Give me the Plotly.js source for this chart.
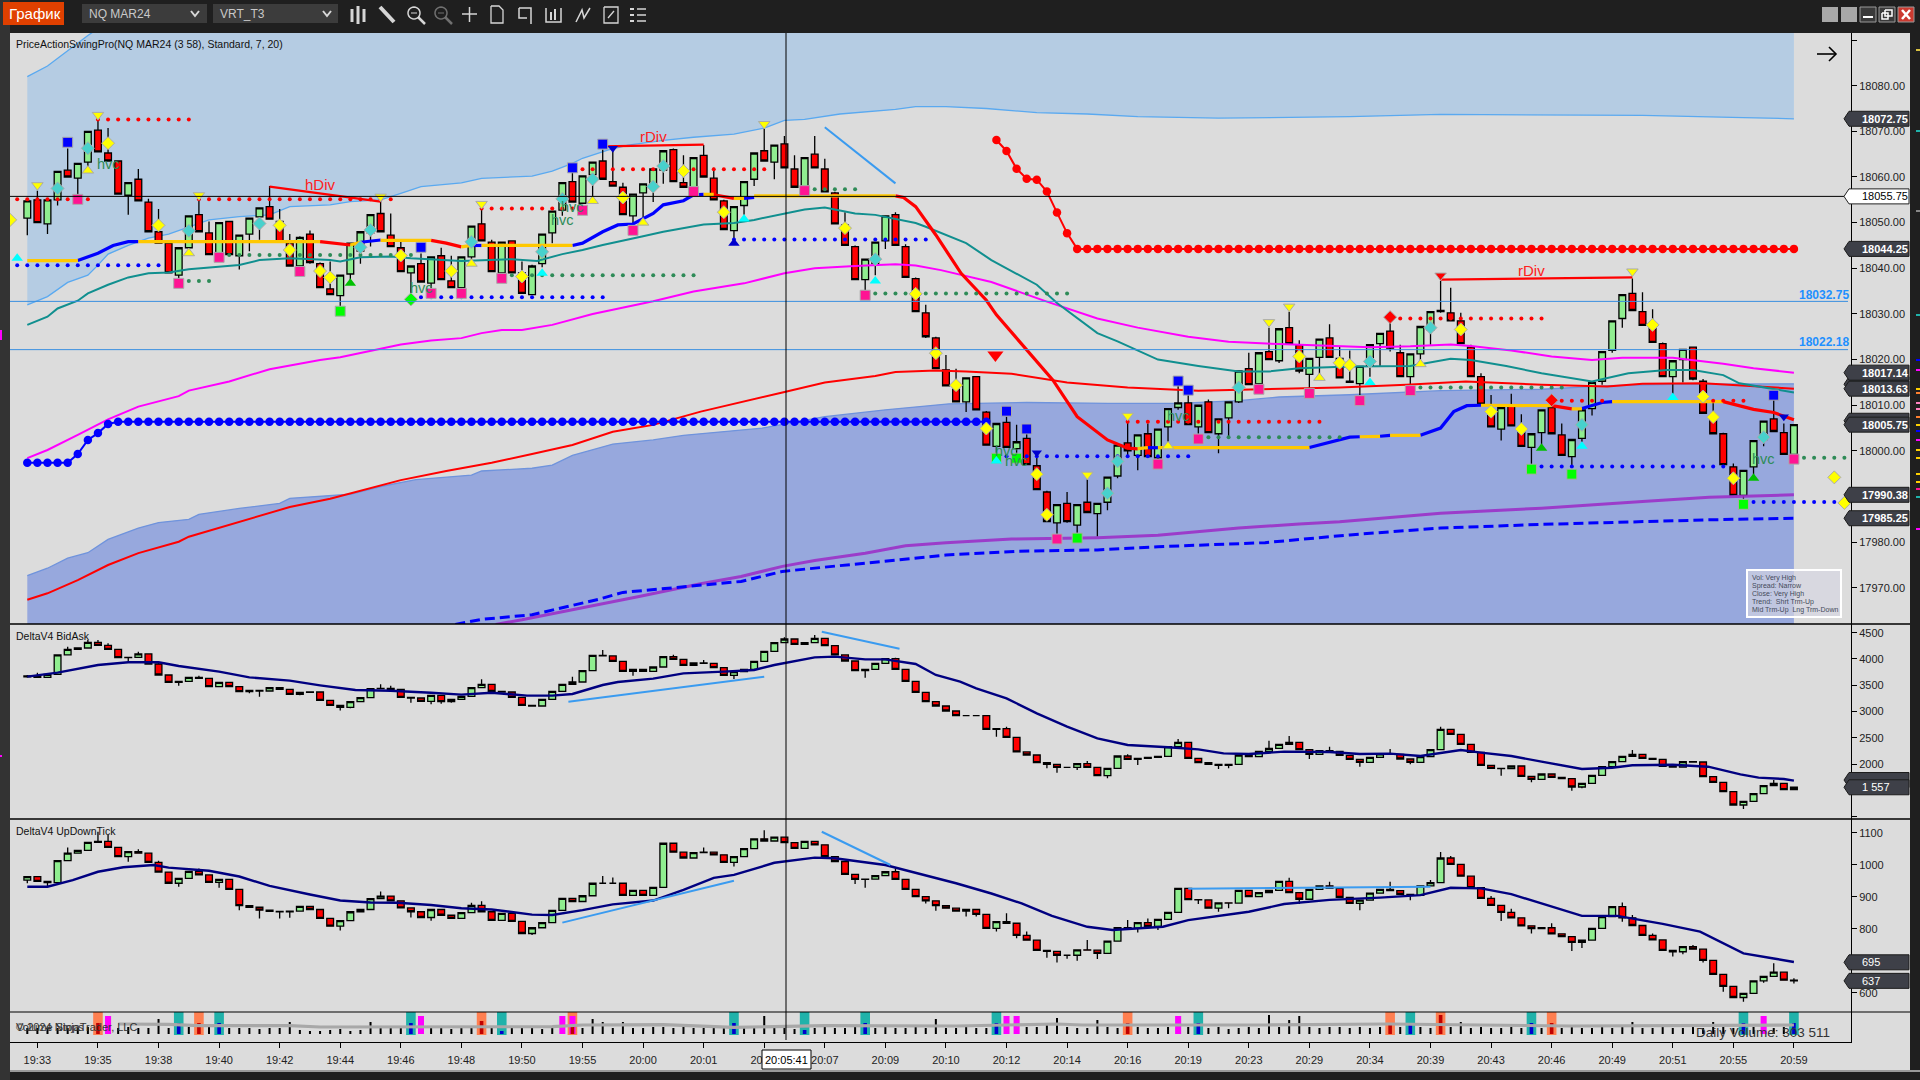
<!DOCTYPE html>
<html><head><meta charset="utf-8">
<script src="https://cdn.plot.ly/plotly-3.0.1.min.js"></script>
<style>html,body{margin:0;padding:0;background:#1f1f1f;overflow:hidden}#c{width:1920px;height:1080px}</style>
</head><body><div id="c"></div>
<script>
const tickLabels=['19:33','19:35','19:38','19:40','19:42','19:44','19:46','19:48','19:50','19:55','20:00','20:01','20:04','20:07','20:09','20:10','20:12','20:14','20:16','20:19','20:23','20:29','20:34','20:39','20:43','20:46','20:49','20:51','20:55','20:59'];
const priceOpen=[18051,18055,18049.75,18055,18061.5,18059.75,18063.25,18070.25,18065.25,18063.5,18056,18059.5,18054.5,18048,18045.5,18038.5,18044.5,18051.75,18047.75,18043.25,18050.25,18042.75,18047.5,18051.25,18053.5,18050.25,18045.5,18040.5,18047.5,18041,18035.5,18034,18038.75,18043.75,18047.75,18052,18047.25,18044.5,18039,18041,18036.75,18042.75,18037.25,18035.75,18042.5,18049.75,18045.75,18039,18046,18039,18034.25,18041,18047.75,18052.75,18059,18054.25,18060.5,18063.5,18059,18057.75,18051.5,18056.5,18058.5,18061.5,18066,18058.75,18057.5,18064.75,18059.75,18054.75,18048.25,18053.75,18059.5,18065.75,18063.25,18067.25,18061.75,18057.75,18065,18061.75,18056.5,18049.5,18044.75,18037.5,18041,18046,18051.75,18044.75,18037.75,18030.25,18024.75,18017.75,18013.5,18010.75,18016.25,18008.5,18001,18006.25,18000.5,18002.75,17996.75,17991,17984.25,17988.5,17983.75,17988.75,17986.25,17988.75,17994.5,18001.75,17999,18003.75,17998.5,18005.25,18009.5,18010.5,18005.25,18010.75,18003.75,18007.25,18010.75,18018,18014.75,18021.75,18019.75,18027,18023.25,18016.75,18020.5,18024.75,18020.25,18015.25,18014.75,18018.5,18023.5,18026.25,18021.5,18016.25,18021.25,18026.5,18030.75,18030.25,18028.5,18022.75,18016.25,18008.25,18004.75,18010,18005,18000.75,18004,18009.5,18003.5,17998.75,18002.75,18009.25,18015.25,18022,18029,18034.5,18030.5,18027.25,18023.5,18016.25,18020,18022.75,18015.25,18007,18003.75,17996.5,17990.25,17996.5,18002.5,18007,18004,17999.25];
const priceHigh=[18054.75,18057,18055,18061.25,18066.25,18063,18070,18072.5,18070.75,18063.5,18058.75,18061.75,18055.25,18053,18045.5,18044.5,18051.5,18055,18050.25,18050,18050.25,18047.25,18051,18053.25,18058,18053,18047.5,18047,18048.25,18041.25,18041.5,18038.5,18045.5,18048,18051.75,18055,18052,18045.75,18040.5,18043.25,18042.5,18044.5,18042.75,18042.5,18049.25,18054,18046.25,18045.75,18046,18041.5,18040.75,18047.5,18052.5,18058.75,18061.25,18060.25,18063.25,18066,18066,18058.75,18056.25,18058.5,18061.75,18065.75,18066.25,18064.75,18064.25,18067,18062,18055,18053.5,18059,18065.25,18070.75,18067,18069,18064.75,18064.25,18069,18064,18056.75,18052.25,18045,18042,18045.75,18051.5,18052.25,18045.25,18038,18032,18025,18021,18018,18016,18016.25,18008.75,18006,18007.5,18005.75,18003.75,17998.75,17991.25,17988.25,17991,17988.25,17993.75,17988.5,17994.25,18001.25,18006.5,18003.5,18006,18004.75,18009.25,18014.25,18012.25,18010,18011.25,18007,18010.75,18017.5,18021.5,18021.5,18027,18026.75,18030.5,18024.25,18020.25,18024.5,18027.75,18022.75,18022,18018.5,18023.25,18025.75,18028,18023.25,18021.25,18027.25,18030.5,18037.25,18035.75,18030.25,18023.25,18017,18012.25,18009.5,18012.5,18008,18003.75,18009,18009.75,18006,18002.5,18009,18015,18021.75,18028.5,18034.25,18037.75,18034.75,18031,18023.75,18019.75,18022.25,18022.75,18015.75,18010.5,18004,17997.25,17995.75,18002.25,18006.5,18011.25,18006,18005.75];
const priceLow=[18047.25,18050,18047.5,18053.75,18060,18056,18061,18065.5,18063.5,18056.25,18051.75,18054.75,18048,18045.5,18039,18037.75,18044.5,18048,18043,18043,18043,18039.75,18043.75,18046.25,18050.75,18045.75,18040.5,18040.25,18041,18035.75,18034.25,18031.75,18037,18041,18044.75,18048,18044.75,18039.25,18033,18037,18035.5,18037.5,18035.75,18035.5,18040.5,18046,18039.25,18039,18039,18034.5,18034.25,18040.25,18045.5,18051.5,18054.5,18054,18055.75,18059.5,18058,18051.75,18049.5,18050.5,18054.5,18058.5,18059,18057.75,18057.5,18060,18055,18048.5,18046.5,18051.75,18058,18063.5,18059.5,18062,18057.75,18057.75,18062,18056.75,18049.75,18045,18037.5,18035.25,18038.5,18044.25,18045,18038,18030.5,18024.75,18018,18014.25,18010.75,18008.5,18009,18001.25,17998.5,18000.75,17998.5,17997,17991.5,17984.5,17981.5,17984.25,17982,17986.5,17981.25,17987,17994,17999,17995.75,17998.75,17998.25,18001.75,18009,18005.75,18003.75,18004,17999.5,18003.25,18010.5,18014.5,18014.5,18020,18019.25,18023.5,18017,18013.75,18016.5,18020.5,18016,18015,18012.25,18016.25,18018.5,18021.75,18016.25,18014.5,18019.25,18023.25,18030.25,18028.5,18023.5,18016.25,18010.25,18005.25,18002.25,18005.5,18001,17997,18001.25,18003.75,17999,17996.25,18002,18007.75,18014.5,18021.5,18027,18030.75,18027.5,18023.75,18016.25,18012.25,18015,18015.5,18008.25,18003.75,17997,17990.25,17989.5,17994.75,18001,18004.25,17999.25,17999];
const priceClose=[18054.75,18050,18055,18061.25,18060,18063,18070,18065.5,18063.5,18056.25,18058.75,18054.75,18048,18045.5,18039,18044.5,18051.5,18048,18043,18050,18043,18047.25,18051,18053.25,18050.75,18045.75,18040.5,18046.75,18041.25,18035.75,18034.25,18038.5,18045.5,18048,18051.75,18048,18044.75,18039.25,18040.5,18037,18042.5,18037.5,18035.75,18042.5,18049.25,18046,18039.25,18045.75,18039,18034.5,18040.5,18047.5,18052.5,18058.75,18054.5,18060.25,18063.25,18059.5,18058,18051.75,18056.25,18058.5,18061.75,18065.75,18059,18057.75,18064.25,18060,18055,18048.5,18053.5,18059,18065.25,18063.5,18067,18062,18057.75,18064.25,18062,18056.75,18049.75,18045,18037.5,18042,18045.75,18051.5,18045,18038,18030.5,18025,18018,18014.25,18010.75,18016,18009,18001.25,18006,18000.75,18002,17997,17991.5,17984.5,17988.25,17984.5,17988.25,17986.5,17988.5,17994.25,18001.25,18000,18003.5,17998.75,18004.75,18009.25,18010.5,18005.75,18010,18004,18007,18010.75,18017.5,18014.5,18021.5,18020,18026.75,18023.5,18017.5,18020.25,18024.5,18020.5,18016,18015,18018.5,18023.25,18025.75,18022.5,18016.25,18021.25,18027.25,18030.5,18030.5,18028.5,18023.5,18016.25,18010.25,18005.25,18009.5,18005.5,18001,18003.75,18009,18003.75,17999,18002.5,18009,18015,18021.75,18028.5,18034.25,18030.75,18027.5,18023.75,18016.25,18019.75,18022.25,18015.75,18008.25,18003.75,17997,17990.25,17995.75,18002.25,18006.5,18004.25,17999.25,18005.75];
const bidAskClose=[3676,3650,3707,4076,4184,4209,4317,4260,4184,4025,4031,4095,3904,3695,3555,3574,3650,3631,3473,3555,3473,3377,3403,3390,3454,3422,3327,3365,3371,3212,3117,3079,3187,3263,3435,3441,3422,3270,3257,3193,3308,3187,3231,3289,3454,3517,3384,3371,3270,3117,3104,3231,3384,3517,3561,3777,4069,4057,3955,3765,3803,3765,3847,4044,3993,3879,3923,3917,3834,3688,3758,3803,3955,4145,4310,4380,4279,4310,4393,4253,4076,3961,3777,3803,3917,4006,3803,3574,3365,3187,3104,3009,2920,2920,2920,2660,2673,2508,2229,2171,2026,1994,1937,1937,2006,1937,1778,1918,2152,2089,2108,2127,2146,2330,2413,2108,2026,1994,1975,1994,2171,2140,2241,2298,2375,2413,2273,2184,2254,2241,2165,2089,2032,2127,2191,2184,2095,2032,2140,2273,2660,2565,2375,2222,1975,1918,1911,1962,1765,1708,1810,1746,1721,1562,1632,1784,1949,2045,2146,2184,2108,2089,1956,1943,2045,2038,1759,1651,1473,1219,1289,1435,1588,1632,1511,1557];
const bidAskHighWick={0:3695,1:3739,4:4234,6:4361,7:4361,8:4298,11:4139,13:3949,17:3682,35:3517,36:3492,45:3612,54:3663,57:4171,64:4082,67:3980,75:4412,78:4456,86:4025,97:2711,105:2057,109:2184,114:2476,123:2444,125:2533,129:2330,135:2286,140:2711,159:2267,173:1695};
const bidAskLowWick={0:3644,1:3644,10:3949,15:3492,22:3346,23:3282,27:3308,31:3021,32:3060,38:3168,40:3136,41:3149,42:3168,60:3682,70:3618,83:3644,96:2521,101:1918,102:1835,104:1886,107:1727,110:1981,118:1905,119:1918,127:2095,132:1949,137:1994,146:1778,149:1651,153:1492,154:1537,170:1143};
const upDownClose=[963,948,944,1013,1036,1045,1070,1073,1054,1025,1041,1036,1007,977,942,957,979,968,945,954,923,872,867,858,854,853,855,870,860,832,808,825,853,860,894,902,887,865,853,835,860,842,832,850,873,853,826,848,823,785,803,819,857,895,885,903,942,942,942,904,920,904,929,1067,1039,1021,1038,1039,1031,1007,1025,1050,1081,1074,1086,1069,1051,1073,1062,1025,1010,970,954,955,966,978,954,923,900,887,872,864,855,860,845,801,822,817,779,764,732,729,717,717,734,733,723,761,803,802,819,807,829,851,926,891,890,864,881,880,920,900,913,920,948,913,892,923,934,926,898,879,889,911,923,919,907,904,934,944,1021,1001,964,928,895,873,851,834,809,800,803,784,775,757,764,801,838,869,834,810,779,765,732,728,744,736,701,657,620,585,598,637,651,664,639,637];
const upDownHighWick={4:1054,7:1103,8:1093,11:1048,13:1012,17:988,35:916,44:881,45:886,57:965,58:960,67:1054,73:1108,86:989,97:848,99:791,105:765,109:827,111:832,125:959,129:947,135:947,139:952,140:1040,141:1027,145:902,147:862,151:817,158:882,159:843,161:785,165:749,173:692,175:645};
const upDownLowWick={0:942,2:931,10:1009,15:931,19:928,21:858,23:832,25:832,26:834,31:794,38:835,40:825,50:780,70:994,82:940,83:928,89:879,90:856,93:838,94:838,96:791,98:770,101:709,102:694,103:706,104:700,106:705,110:788,112:796,116:877,118:853,119:864,126:877,132:858,137:889,146:824,149:785,153:730,154:740,158:822,163:713,164:720,166:694,168:603,170:572,172:631,175:629};
const volumeBars=[6,6,6,6,6,6,7,11,6,6,7,6,6,15,6,11,7,11,7,11,6,6,6,5,6,6,12,4,3,3,4,5,3,4,12,7,6,6,11,7,6,6,5,6,6,13,6,3,6,6,7,5,6,7,7,6,15,12,6,12,6,6,7,7,6,7,6,6,6,7,11,6,6,18,7,6,5,4,6,7,6,6,7,11,6,7,6,6,7,6,15,6,6,7,6,6,11,6,6,7,7,9,16,7,6,6,14,7,6,11,7,6,6,7,5,7,11,6,7,5,6,7,6,19,7,14,18,7,6,7,7,6,7,6,7,11,7,11,7,6,19,7,12,6,7,6,6,7,6,11,6,11,6,7,6,6,7,6,7,12,6,6,7,6,6,7,6,12,7,6,11,7,7,6,7,11];
const swingTeal=[15,19,38,47,70,77,83,96,116,137,149,170,175];
const swingCoral=[7,17,45,54,109,135,140,151];
const swingMagenta=[8,39,53,54,97,98,114,172];
const upperBandTop=[[0,18082],[2,18084.3],[6,18091],[8,18094],[40,18110],[175,18120]];
const upperBandLine=[[0,18032],[2,18033.8],[4,18036.9],[6,18038.5],[7,18040.7],[8,18043.1],[10,18045],[12,18046.6],[14,18047.5],[16,18049.1],[18,18050.6],[21,18051.3],[24,18051.7],[26,18053.5],[30,18053.9],[32,18054.6],[35,18055],[37,18056.4],[39,18057.9],[43,18058.7],[45,18059.7],[50,18060.2],[52,18061.3],[54,18063],[55,18064.1],[57.5,18065.9],[59.5,18067],[63,18068],[66,18068.7],[70,18069.4],[73,18070.7],[75,18072.4],[77,18072.6],[80.5,18073.8],[86,18074.8],[88,18075.4],[91,18075.4],[95,18075],[100,18074.1],[105,18073.8],[110,18073.2],[118,18072.9],[131,18073.2],[140,18073.7],[150,18073.6],[160,18073.5],[170,18073],[175,18072.75]];
const lowerBandLine=[[0,17972.7],[2,17974.3],[4,17976.5],[6,17977.7],[8,17980.6],[11,17983.1],[13,17984.3],[16,17985],[17,17986.1],[21,17987.4],[25,17988.5],[26,17989.6],[32,17990.5],[35,17992.2],[38.5,17993.7],[44,17994.7],[45,17995.6],[50,17996.2],[52,17996.9],[54,17999],[58,18001.5],[62,18002.4],[65,18003.4],[72.8,18005],[79,18007.5],[85,18009],[91.3,18010.3],[99,18010.6],[107,18010.4],[114,18010.4],[120,18011],[124,18011.8],[131,18012.3],[140,18013.2],[150,18013.5],[156.7,18014.3],[163,18014.6],[175,18014.7]];
const tealLine=[[0,18027.6],[2,18029.4],[3,18031.2],[5,18032.9],[6,18034.5],[8,18036.4],[10,18038],[12,18038.9],[14,18039.1],[16,18039.8],[21,18040.7],[23,18041.8],[26,18042.2],[30,18041.8],[31,18041.5],[33,18042.4],[36,18042.6],[38,18042.2],[43,18041.6],[48,18042],[50.5,18041.6],[53,18043.1],[55,18044],[57,18045.1],[61,18047],[63,18048],[67,18049.6],[70,18049.9],[72,18050.6],[75,18052],[77,18052.9],[79,18053.3],[82,18052],[84,18051.7],[88,18049.9],[89,18049.1],[93,18045.5],[95.5,18041.8],[100,18036.4],[102,18032.4],[106,18025.8],[108,18024],[112,18020],[116,18018.6],[120,18017.4],[123,18017.4],[126,18018.1],[131,18018.5],[133,18018.5],[137,18018.6],[141,18020.2],[143,18019.9],[146.5,18018.6],[150,18017],[155,18015.2],[158.6,18017],[162.4,18017.7],[165,18017.7],[168,18016.6],[169.6,18014.8],[175,18012.8]];
const magentaLine=[[0,17998.4],[2,18000.2],[5,18003.5],[8,18006.9],[11,18009.7],[15,18012],[16,18013.2],[20,18015.2],[24,18017.9],[29,18019.9],[31,18020.5],[34.5,18022.1],[37,18023.3],[40,18024.2],[43,18024.7],[45,18025.8],[47,18026.5],[49,18026.5],[52,18027.6],[56,18030],[62,18032.8],[66,18034.9],[71,18036.7],[75,18038.9],[78,18040],[82,18040.5],[86,18040.9],[88,18040.6],[90.5,18039.6],[95.5,18037],[101,18032.7],[106,18029],[110,18027],[115,18025],[119,18023.9],[124,18023.4],[131,18022.9],[133,18022.7],[137,18022.9],[141,18023.3],[143,18023],[147,18022],[151,18020.7],[155,18019.9],[158,18020.4],[163,18020.4],[168,18019.1],[171,18018.1],[175,18017.14]];
const redLine=[[0,17967.4],[2,17968.8],[5,17971.7],[8,17975],[11,17977.6],[15,17980.1],[16,17981.2],[20,17983.8],[26,17987.7],[30,17989.5],[34,17991.8],[37,17993.6],[41.5,17995.6],[46,17997.4],[50,17999.3],[54,18001.3],[58,18004.2],[62,18005.7],[66.7,18008.6],[70.7,18010.6],[74.8,18012.8],[79,18015],[84,18016.4],[86,18017.3],[90,18017.6],[93,18017.4],[97.5,18016.9],[103,18015],[109,18013.9],[116,18013.2],[130,18013.9],[136.6,18014.5],[142.5,18015.2],[150,18014.5],[156.5,18014.1],[160,18014.7],[166,18014.8],[175,18013.63]];
const purpleLine=[[46.4,17962],[49,17963],[60.6,17968.1],[66.7,17970.9],[70.7,17972.5],[74.8,17974.7],[78,17976],[83,17977.6],[87,17979.2],[91,17979.9],[97.5,17980.7],[106,17981],[112,17981.5],[120,17983.1],[126,17984],[130,17984.5],[140,17986.35],[150,17987.45],[160,17988.9],[166.6,17989.85],[175,17990.38]];
const blueDashLine=[[42.4,17962],[45,17963.1],[50,17964.1],[53.5,17965.9],[56.6,17967.5],[59,17969],[66.7,17970.5],[70.7,17971.4],[74.8,17973.6],[83,17975.4],[91,17977.2],[98,17978],[106,17978.3],[112,17979],[122.6,17979.9],[131,17981.6],[140,17983.1],[150,17983.9],[160,17984.6],[166.6,17984.9],[175,17985.25]];
const trendGold=[[[0,18041.7],[5,18041.7]],[[11,18045.85],[29,18045.85]],[[32,18045.1],[33,18045.7]],[[35,18046.1],[40,18046.1]],[[43,18044.7],[44,18045]],[[45,18045],[54,18045]],[[67,18056.2],[68,18056.2]],[[70,18055.3],[71,18055.3]],[[72,18055.85],[86,18055.85]],[[110,18000.5],[111,18000.7]],[[112,18000.73],[127,18000.73]],[[132,18003.1],[134,18003.2]],[[135,18003.4],[138,18003.4]],[[144,18010],[151,18009.9]],[[153,18009.2],[154,18009.2]],[[157,18010.8],[168,18010.8]]];
const trendBlue=[[[5,18041.7],[7,18043.3],[8.5,18045],[10,18045.85],[11,18045.85]],[[33,18045.7],[35,18046.2]],[[44,18045],[45,18045]],[[54,18045],[55,18045.5],[57,18048],[58.5,18049.5],[60,18049.7],[62,18052],[63,18053.9],[65,18054.8],[66,18056.1],[67,18056.2]],[[71,18055.3],[72,18055.5]],[[111,18000.7],[112,18000.7]],[[127,18000.73],[131,18003],[132,18003.1]],[[134,18003.2],[135,18003.4]],[[138,18003.4],[140,18005],[141.3,18008.6],[142.6,18009.9],[144,18010]],[[154,18009.3],[156,18010.6],[157,18010.8]]];
const trendRed=[[[29,18045.85],[32,18045.1]],[[40,18046.1],[41.5,18045.5],[43,18044.7]],[[68,18056.1],[70,18055.3]],[[86,18055.85],[86.8,18055.5],[88,18053.5],[90,18047.3],[92.5,18038.9],[95,18033],[96,18029.8],[99,18022.1],[101.6,18015.5],[104,18007.5],[107,18002.4],[109,18000.6],[110,18000.45]],[[151,18009.9],[153,18009.2]],[[168,18010.8],[171,18009.1],[173,18008.4],[175,18006.8]]];
const blueStop=[[0,17997.4],[1,17997.4],[2,17997.4],[3,17997.4],[4,17997.4],[5,17999.3],[6,18002.4],[7,18003.9],[8,18005.9]];
const blueStopLevel=18006.4, blueStopEnd=95;
const redStop=[[96,18068.1],[97,18065.7],[98,18061.8],[99,18059.6],[100,18059.4],[101,18056.8],[102,18052.2],[103,18047.7]];
const redStopLevel=18044.25, redStopEnd=175;
const redDots=[[7,16,18072.6],[-1,6,18055.1],[17,36,18055.1],[45,55,18053.1],[55,73,18061.7],[109,128,18006.4],[136,150,18029],[152,156,18011],[167,170,18011]];
const blueDots=[[-1,13,18040.66],[39,57,18033.65],[70,89,18046.3],[97,115,17998.8],[150,168,17996.6],[171,180,17988.8]];
const greenDots=[[16,18,18037.2],[20,38,18042.9],[48,66,18038.5],[78,82,18057.3],[84,103,18034.5],[117,130,18003],[138,152,18013.9],[176,180,17998.5]];
const pinkSquares=[[5,18055.1],[15,18036.7],[19,18042.4],[27,18039.3],[40,18034.5],[43,18034.5],[47,18037.8],[55,18052.7],[60,18048.3],[66,18056.8],[77,18057],[83,18034.1],[102,17980.7],[112,17997.1],[116,18002.6],[122,18013.5],[127,18012.6],[132,18011],[137,18013.2],[175,17998.2]];
const limeSquares=[[31,18030.6],[96,17998.4],[98,17998.4],[104,17980.9],[149,17996],[153,17994.9],[170,17988.3]];
const blueSquares=[[4,18067.6],[39,18044.6],[54,18062],[57,18067.2],[97,18008.7],[99,18004.8],[114,18015.3],[115,18013.3],[173,18012.2]];
const yellowDiamonds=[[-1.7,18050.6],[8,18067.4],[13,18049.4],[25,18049.4],[26,18044],[29,18039.4],[30,18038],[37,18042.8],[42,18039.4],[49,18038.2],[59,18055.5],[65,18061.3],[69,18052.3],[81,18048.8],[88,18034.4],[90,18021.4],[92,18014.4],[95,18004.9],[100,17994.9],[101,17986],[126,18020.7],[130,18019.3],[131,18018.8],[142,18026.6],[145,18008.6],[148,18004.8],[161,18027.6],[166,18011.9],[167,18007.4],[169,17994],[179,17994.2],[180,17988.6]];
const turquoiseDiamonds=[[3,18057.5],[6,18066.3],[16,18048.2],[23,18049.8],[33,18044.6],[34,18048.4],[44,18045.8],[51,18043.6],[53,18055.2],[56,18059.5],[62,18057.9],[63,18062.4],[84,18042],[107,17990.7],[108,17997.7],[120,18013.9],[133,18019.6],[139,18027],[154,18005.7],[172,18003]];
const yellowUp=[[6,18061.4],[16,18043.3],[44,18041],[56,18054.75],[61,18050],[113,18001],[128,18016],[138,18019]];
const yellowDown=[[1,18058.2],[7,18073.6],[17,18056],[35,18055.7],[45,18054.1],[73,18071.6],[105,17994.8],[109,18007.7],[123,18028.2],[125,18031.6],[159,18039.3]];
const cyanUp=[[-1,18042.2],[51,18038.9],[71,18050.8],[84,18037.2],[96,17997.8],[133,18015],[154,18001],[163,18011.7]];
const greenUp=[[32,18036.7],[150,18000.6],[171,17994]];
const navyUp=[[70,18045.5]];
const navyDown=[[58,18066.3],[100,17999.6],[174,18007.5]];
const redDiamonds=[[135,18029.3],[151,18011.1]];
const greenDiamonds=[[38,18033.2]];
const redDownBig=[[95.9,18021]];
const redDownSmall=[[140,18038.4]];
const hvcLabels=[[8,18062.9],[39,18035.6],[54,18053.4],[53,18050.6],[97,18000],[98,17997.8],[114,18007.7],[172,17998.3]];
const divLabels=[['hDiv',29,18058.3],['rDiv',62,18068.8],['rDiv',149,18039.6]];
const divLines=[[[24,18057.9],[35,18054.6]],[[57,18066.7],[67,18067.1]],[[140,18037.5],[159,18038]]];
const priceDrawn=[[79,18070.9],[86,18058.6]];
const bidAskDrawn=[[[53.6,3187],[73,3663]],[[78.7,4520],[86.4,4196]]];
const upDownDrawn=[[[53,819],[70,950]],[[78.7,1103],[85.5,999]],[[115,925],[139,931]]];
const bidAskMA=[[0,3663],[3,3739],[7,3885],[10,3936],[13,3936],[15,3866],[19,3758],[22,3650],[26,3587],[29,3498],[32.5,3409],[36,3396],[40,3358],[43,3320],[46,3358],[49.5,3301],[52,3301],[54,3333],[57,3504],[58.5,3561],[62,3625],[65,3726],[69,3758],[72,3790],[74,3885],[78,4031],[80,4044],[83,3993],[85,3993],[88,3904],[90,3695],[92.4,3568],[94,3441],[97,3250],[100,2965],[103,2711],[106,2489],[109,2362],[113,2318],[116,2279],[118.5,2203],[121,2190],[124.5,2235],[129,2229],[132,2190],[135,2197],[138,2152],[140,2216],[142,2267],[144,2216],[147,2152],[150,2045],[154,1905],[157,1930],[159,1975],[163,1987],[166.5,1949],[169.7,1803],[171.5,1740],[174,1714],[175,1683]];
const upDownMA=[[0,931],[2,931],[4.5,952],[7,978],[9.5,992],[12.5,999],[14,991],[18,981],[21,963],[24,934],[28,907],[31,888],[34,882],[36.7,881],[40,874],[43,864],[46,860],[50,844],[52,843],[55,858],[58,876],[62,888],[65,921],[68,959],[70,968],[74,1006],[78,1022],[80,1020],[85,999],[89.5,963],[92,942],[95.5,910],[98.5,879],[101.5,840],[105,806],[107.5,796],[112.5,806],[115,827],[118,840],[121,853],[124.5,877],[129,890],[134,897],[138,905],[141,928],[144,926],[147,908],[150.5,874],[154,840],[157.5,840],[162,815],[165.7,791],[170,723],[173,707],[175,696]];
const volumeWave=[[9,10],[14,9.7],[17,8.3],[26,8.3],[29,7],[42,7.3],[52,7.3],[55,9],[63,9.3],[70,6.7],[79,8.3],[92,8],[98.4,9],[102,10],[104.5,9],[122.7,9],[134.9,10],[153,8],[175,9]];
const infoLines=['Vol: Very High','Spread: Narrow','Close: Very High','Trend:  Shrt Trm-Up','Mid Trm-Up  Lng Trm-Down'];
const gutterMarks=[[49,'#d8c040'],[130,'#20b2aa'],[210,'#888888'],[314,'#20b2aa'],[359,'#0000ff'],[369,'#ff00ff'],[388,'#ffd000'],[392,'#ff8030'],[402,'#ff80c0'],[408,'#ff80c0'],[416,'#ff8030'],[424,'#ffd000'],[430,'#0000ff'],[439,'#ff00ff'],[449,'#ffd000'],[457,'#ffd000'],[473,'#ffd000'],[481,'#ffd000'],[488,'#ff1493'],[496,'#20b2aa'],[528,'#ff00ff']];

const FONT='Liberation Sans, Arial, sans-serif';
const barIndex=priceClose.map((_,i)=>i);
const X=(p)=>p/1920, Y=(p)=>1-p/1080;
const PX0=10,PX1=1851,BARX0=27.3,BARDX=10.095;
const panes={y:[33,624,17962.08,18091.54],y2:[624,819,952.8,4665.6],y3:[819,1012,539.7,1142.8],y4:[1012,1042,-8,22]};
const pix=(ax,v)=>{const[a,b,lo,hi]=panes[ax];return b-(v-lo)/(hi-lo)*(b-a)};
const xs=a=>a.map(d=>d[0]), ys=a=>a.map(d=>d[1]);
function segs(list){const x=[],y=[];list.forEach(s=>{s.forEach(p=>{x.push(p[0]);y.push(p[1])});x.push(null);y.push(null)});return{x,y}}
function deltaOHLC(close,hi,lo,first){const o=close.map((c,i)=>i?close[i-1]:first);
 return{open:o,close,high:close.map((c,i)=>Math.max(c,o[i],hi[i]??-1e9)),low:close.map((c,i)=>Math.min(c,o[i],lo[i]??1e9))}}
function candle(d,ya){return Object.assign({type:'candlestick',x:barIndex,xaxis:'x',yaxis:ya,whiskerwidth:0,hoverinfo:'skip',
 increasing:{line:{color:'#000',width:1.3},fillcolor:'#90ee90'},decreasing:{line:{color:'#000',width:1.3},fillcolor:'#ff0000'}},d)}
const line=(a,color,width,ya,extra)=>Object.assign({type:'scatter',mode:'lines',x:xs(a),y:ys(a),yaxis:ya,line:{color,width},hoverinfo:'skip'},extra||{});
const mk=(a,symbol,color,size,border,ya)=>({type:'scatter',mode:'markers',x:xs(a),y:ys(a),yaxis:ya||'y5',hoverinfo:'skip',marker:{symbol,color,size,line:{color:border||color,width:border?1:0}}});
function dots(levels,color){const x=[],y=[];levels.forEach(([a,b,v])=>{for(let i=a;i<=b;i++){x.push(i);y.push(v)}});return{type:'scatter',mode:'markers',x,y,yaxis:'y5',hoverinfo:'skip',marker:{color,size:4}}}
function stop(points,level,end,color){const a=points.slice();for(let i=points[points.length-1][0]+1;i<=end;i++)a.push([i,level]);
 return{type:'scatter',mode:'lines+markers',x:xs(a),y:ys(a),yaxis:'y5',hoverinfo:'skip',line:{color,width:2},marker:{color,size:8.5}}}
const tGold=segs(trendGold),tBlue=segs(trendBlue),tRed=segs(trendRed),dLines=segs(divLines),baD=segs(bidAskDrawn),udD=segs(upDownDrawn);
const seg=(s,color,width,ya)=>({type:'scatter',mode:'lines',x:s.x,y:s.y,yaxis:ya,line:{color,width},hoverinfo:'skip',connectgaps:false});
const volInner=i=>swingTeal.includes(i)?'#0000cd':swingCoral.includes(i)?'#c00000':swingMagenta.includes(i)?'#ff00ff':'#000';
const blockBar=(list,color,w,top,bottom)=>({type:'bar',x:list,y:list.map(()=>top-bottom),base:list.map(()=>bottom),width:list.map(()=>w),yaxis:'y4',marker:{color,line:{width:0}},hoverinfo:'skip'});
const hasBlock=i=>swingTeal.includes(i)||swingCoral.includes(i)||swingMagenta.includes(i);
const data=[
 {type:'scatter',mode:'lines',x:xs(upperBandTop),y:ys(upperBandTop),yaxis:'y',line:{color:'#5aa9f0',width:1.3},hoverinfo:'skip'},
 {type:'scatter',mode:'lines',x:xs(upperBandLine),y:ys(upperBandLine),yaxis:'y',fill:'tonexty',fillcolor:'#b5cce3',line:{color:'#5aa9f0',width:1.3},hoverinfo:'skip'},
 {type:'scatter',mode:'lines',x:[0,175],y:[17900,17900],yaxis:'y',line:{width:0},hoverinfo:'skip'},
 {type:'scatter',mode:'lines',x:xs(lowerBandLine),y:ys(lowerBandLine),yaxis:'y',fill:'tonexty',fillcolor:'#97a8dd',line:{color:'#6f93dc',width:1.3},hoverinfo:'skip'},
 candle({open:priceOpen,high:priceHigh,low:priceLow,close:priceClose},'y5'),
 line(magentaLine,'#ff00ff',2,'y5'),line(redLine,'#ff0000',2,'y5'),line(tealLine,'#108f8f',2,'y5'),
 line(purpleLine,'#9b30c8',3,'y5',{opacity:.9}),line(blueDashLine,'#0000ff',3,'y5',{line:{color:'#0000ff',width:3,dash:'10px,5px'}}),
 stop(blueStop,blueStopLevel,blueStopEnd,'#0000ff'),stop(redStop,redStopLevel,redStopEnd,'#ff0000'),
 seg(tBlue,'#0000ff',3.2,'y5'),seg(tRed,'#ff0000',3.2,'y5'),seg(tGold,'#ffc800',3.2,'y5'),
 seg(dLines,'#ff0000',2.2,'y5'),line(priceDrawn,'#3a9bf0',2,'y5'),
 dots(redDots,'#ff0000'),dots(blueDots,'#0000ff'),dots(greenDots,'#2e8b57'),
 mk(pinkSquares,'square','#ff1493',10,'#aaaaaa'),mk(limeSquares,'square','#00ff00',10,'#aaaaaa'),mk(blueSquares,'square','#0000ff',10,'#aaaaaa'),
 mk(yellowDiamonds,'diamond','#ffff00',10,'#aaaaaa'),mk(turquoiseDiamonds,'diamond','#48d1cc',10,'#aaaaaa'),
 mk(redDiamonds,'diamond','#ff0000',10,'#aaaaaa'),mk(greenDiamonds,'diamond','#00ff00',10,'#aaaaaa'),
 mk(yellowUp,'triangle-up','#ffff00',10,'#aaaaaa'),mk(yellowDown,'triangle-down','#ffff00',10,'#aaaaaa'),
 mk(cyanUp,'triangle-up','#00ffff',10),mk(greenUp,'triangle-up','#00c000',10),mk(navyUp,'triangle-up','#0000cd',10),mk(navyDown,'triangle-down','#0000cd',9),
 mk(redDownBig,'triangle-down','#ff0000',14),mk(redDownSmall,'triangle-down','#ff0000',10,'#aaaaaa'),
 candle(deltaOHLC(bidAskClose,bidAskHighWick,bidAskLowWick,3660),'y2'),
 line(bidAskMA,'#000080',2.4,'y2'),seg(baD,'#3a9bf0',2,'y2'),
 candle(deltaOHLC(upDownClose,upDownHighWick,upDownLowWick,952),'y3'),
 line(upDownMA,'#000080',2.4,'y3'),seg(udD,'#3a9bf0',2,'y3'),
 blockBar(swingTeal,'#20b2aa',.95,22,-1),blockBar(swingCoral,'#ff7f50',.95,22,-1),blockBar(swingMagenta,'#ff00ff',.6,18,0),
 {type:'bar',x:barIndex,y:volumeBars,width:barIndex.map(i=>hasBlock(i)?.36:.2),yaxis:'y4',marker:{color:barIndex.map(volInner),line:{width:0}},hoverinfo:'skip'},
 line(volumeWave,'#a8a8a8',3.2,'y4')
];

const shapes=[],annos=[];
const rect=(x0,y0,x1,y1,fill,lineC,lw,layer)=>shapes.push({type:'rect',xref:'paper',yref:'paper',x0:X(x0),x1:X(x1),y0:Y(y1),y1:Y(y0),fillcolor:fill,line:{color:lineC||fill,width:lw||0},layer:layer||'above'});
const hl=(x0,x1,y,c,w)=>shapes.push({type:'line',xref:'paper',yref:'paper',x0:X(x0),x1:X(x1),y0:Y(y),y1:Y(y),line:{color:c,width:w||1}});
const path=(pts,c,w,fill)=>shapes.push({type:'path',xref:'paper',yref:'paper',path:pts.map((p,k)=>(k?'L':'M')+X(p[0])+' '+Y(p[1])).join(' ')+(fill?' Z':''),line:{color:c,width:w},fillcolor:fill||'rgba(0,0,0,0)'});
const txt=(x,y,t,size,color,o)=>annos.push(Object.assign({xref:'paper',yref:'paper',x:X(x),y:Y(y),text:t,showarrow:false,xanchor:'left',yanchor:'middle',font:{family:FONT,size,color},borderpad:0},o||{}));
rect(10,33,1910,1070,'#dcdcdc','#dcdcdc',0,'below');
rect(0,1070,1920,1072,'#9a9a9a','#9a9a9a',0,'below');
rect(0,0,10,1080,'#333333','#333333',0,'below');rect(10,1072,1920,1080,'#1f1f1f','#1f1f1f',0,'below');
gutterMarks.forEach(m=>rect(1916,m[0],1920,m[0]+2,m[1],m[1],0,'below'));
rect(0,330,2,340,'#ff00ff','#ff00ff',0,'below');rect(0,755,2,757,'#ff00ff','#ff00ff',0,'below');
rect(3,2,64,25,'#e04000');txt(8,14,'График',15,'#ffffff');
rect(82,4,207,23,'#3c3c3c');txt(88,14,'NQ MAR24',12,'#c9c9c9');path([[191,11],[195,16],[199,11]],'#d8d8d8',2);
rect(213,4,338,23,'#3c3c3c');txt(219,14,'VRT_T3',12,'#c9c9c9');path([[323,11],[327,16],[331,11]],'#d8d8d8',2);
const ic='#d6d6d6';
[[352,[[352,9],[352,22]]],[358,[[358,6],[358,24]]],[364,[[364,9],[364,22]]]].forEach(a=>{path(a[1],ic,3)});
path([[380,7],[394,22]],ic,4);
[[414,13],[441,13]].forEach((c,k)=>{const p=[];for(let a=0;a<=24;a++)p.push([c[0]+6*Math.cos(a/12*Math.PI),c[1]+6*Math.sin(a/12*Math.PI)]);path(p,k?'#707070':ic,1.5);path([[c[0]+4,c[1]+4],[c[0]+11,c[1]+11]],k?'#707070':ic,2.5);path([[c[0]-3,c[1]],[c[0]+3,c[1]]],k?'#707070':ic,1)});
path([[462,14],[477,14]],ic,1.5);path([[469.5,7],[469.5,22]],ic,1.5);
path([[491,6],[499,6],[503,10],[503,23],[491,23],[491,6]],ic,1.3);
path([[519,8],[531,8],[531,24]],ic,1.5);path([[519,8],[519,18],[527,18]],ic,1.5);
path([[546,8],[546,22],[561,22],[561,8]],ic,1.5);path([[551,20],[551,12]],ic,2);path([[555,20],[555,9]],ic,2);
path([[576,22],[582,10],[584,18],[590,8]],ic,1.5);
path([[604,7],[618,7],[618,23],[604,23],[604,7]],ic,1.3);path([[608,18],[614,11]],ic,1.3);
[9,15,21].forEach(y=>{path([[630,y],[634,y]],ic,2);path([[637,y],[646,y]],ic,1.5)});
rect(1822,7,1838,22,'#a8a8a8');rect(1841,7,1857,22,'#a8a8a8');
rect(1860,7,1876,22,'#3a3a3a','#999',1);path([[1863,17],[1873,17]],'#fff',2);
rect(1879,7,1895,22,'#3a3a3a','#999',1);path([[1885,10],[1892,10],[1892,16],[1885,16],[1885,10]],'#fff',1.5);path([[1882,13],[1888,13],[1888,19],[1882,19],[1882,13]],'#fff',1.5);
rect(1898,7,1914,22,'#cc3a30','#999',1);path([[1902,10],[1910,19]],'#fff',2.5);path([[1910,10],[1902,19]],'#fff',2.5);
hl(10,1910,624,'#000',1.4);hl(10,1910,819,'#000',1.4);hl(10,1910,1012,'#000',1.2);
const lvl=(v,c)=>shapes.push({type:'line',xref:'paper',yref:'y',x0:X(10),x1:X(1848),y0:v,y1:v,line:{color:c,width:1}});
lvl(18032.75,'#3a8fe0');lvl(18022.18,'#3a8fe0');lvl(18055.75,'#000');
shapes.push({type:'line',xref:'paper',yref:'paper',x0:X(786),x1:X(786),y0:Y(1040),y1:Y(33),line:{color:'#000',width:1}});
txt(1798,295,'18032.75',12,'#1e90ff',{font:{family:FONT,size:12,color:'#1e90ff',weight:700}});
txt(1798,342,'18022.18',12,'#1e90ff',{font:{family:FONT,size:12,color:'#1e90ff',weight:700}});
path([[1817,54],[1836,54]],'#000',1.6);path([[1829,47],[1836,54],[1829,61]],'#000',1.6);
txt(15,44,'PriceActionSwingPro(NQ MAR24 (3 58), Standard, 7, 20)',10.5,'#111');
txt(15,636,'DeltaV4 BidAsk',10.5,'#111');txt(15,831,'DeltaV4 UpDownTick',10.5,'#111');
txt(15,1027,'© 2024 NinjaTrader, LLC',11,'#333');txt(15,1027,'Volume Stops',11,'#333');
txt(1695,1032,'Daily Volume: 303 511',13.5,'#333');
hvcLabels.forEach(h=>annos.push({xref:'x',yref:'y',x:h[0],y:h[1],text:'hvc',showarrow:false,font:{family:FONT,size:14.5,color:'#2e8b57'}}));
divLabels.forEach(d=>annos.push({xref:'x',yref:'y',x:d[1],y:d[2],text:d[0],showarrow:false,font:{family:FONT,size:15,color:'#ff2020'}}));
rect(1747,570,1841,617,'rgba(214,214,226,.65)','#ffffff',2);
infoLines.forEach((t,k)=>txt(1751,578+k*8,t,7,'#444a5a'));
function tag(ax,v,label,white,bold){const yc=pix(ax,v),h=7.5;
 path([[1844,yc],[1849,yc-h],[1909,yc-h],[1909,yc+h],[1849,yc+h]],white?'#222':'#1c1c1c',1,white?'#ffffff':'#3e4048');
 if(label)annos.push({xref:'paper',yref:ax,x:X(1860),y:v,text:label,showarrow:false,xanchor:'left',yanchor:'middle',font:{family:FONT,size:11,color:white?'#000':'#fff',weight:bold?700:400}})}
[[18014.6,''],[18017.14],[18013.63],[18006.6,''],[18005.75],[18072.75],[18044.25],[17990.38],[17985.25]].forEach(t=>tag('y',t[0],t[1]===''?'':t[0].toFixed(2),false,true));
tag('y',18055.75,'18055.75',true,false);
tag('y2',1695,'');tag('y2',1557,'1 557');
tag('y3',695,'695');tag('y3',637,'637');
rect(762,1050,811,1069,'#ffffff','#000',1);
annos.push({xref:'paper',yref:'paper',x:X(786.5),y:Y(1059.5),xanchor:'center',yanchor:'middle',text:'20:05:41',showarrow:false,font:{family:FONT,size:11,color:'#000'}});

const dom=a=>[Y(panes[a][1]),Y(panes[a][0])];
const yax=(a,tv,tt,extra)=>Object.assign({domain:dom(a),range:[panes[a][2],panes[a][3]],side:'right',anchor:'x',showgrid:false,zeroline:false,showline:true,linecolor:'#000',linewidth:1,ticks:'outside',ticklen:5,tickcolor:'#000',tickvals:tv,ticktext:tt,tickfont:{family:FONT,size:11,color:'#222'},fixedrange:true},extra||{});
const priceTicks=[18090,18080,18070,18060,18050,18040,18030,18020,18010,18000,17990,17980,17970];
const baTicks=[1000,1500,2000,2500,3000,3500,4000,4500], udTicks=[600,700,800,900,1000,1100];
const layout={width:1920,height:1080,margin:{l:0,r:0,t:0,b:0},paper_bgcolor:'#1f1f1f',plot_bgcolor:'rgba(0,0,0,0)',showlegend:false,barmode:'overlay',boxgap:.33,boxgroupgap:0,boxmode:'overlay',
 font:{family:FONT},
 xaxis:{domain:[X(PX0),X(PX1)],range:[(PX0-BARX0)/BARDX,(PX1-BARX0)/BARDX],anchor:'y4',showgrid:false,zeroline:false,showline:true,linecolor:'#000',linewidth:1,ticks:'outside',ticklen:5,tickcolor:'#000',ticklabelstandoff:3,tickvals:tickLabels.map((_,k)=>1+k*6),ticktext:tickLabels,tickfont:{family:FONT,size:11,color:'#222'},rangeslider:{visible:false},fixedrange:true},
 yaxis:yax('y',priceTicks,priceTicks.map(v=>v===18090?'':v.toFixed(2))),
 yaxis5:{overlaying:'y',anchor:'x',side:'right',range:[panes.y[2],panes.y[3]],visible:false,fixedrange:true},
 yaxis2:yax('y2',baTicks,baTicks.map(v=>v===1000?'':String(v))),
 yaxis3:yax('y3',udTicks,udTicks.map(String)),
 yaxis4:yax('y4',[],[],{ticks:'',showticklabels:false}),
 shapes,annotations:annos};
Plotly.newPlot('c',data,layout,{staticPlot:true,displayModeBar:false});
</script></body></html>
